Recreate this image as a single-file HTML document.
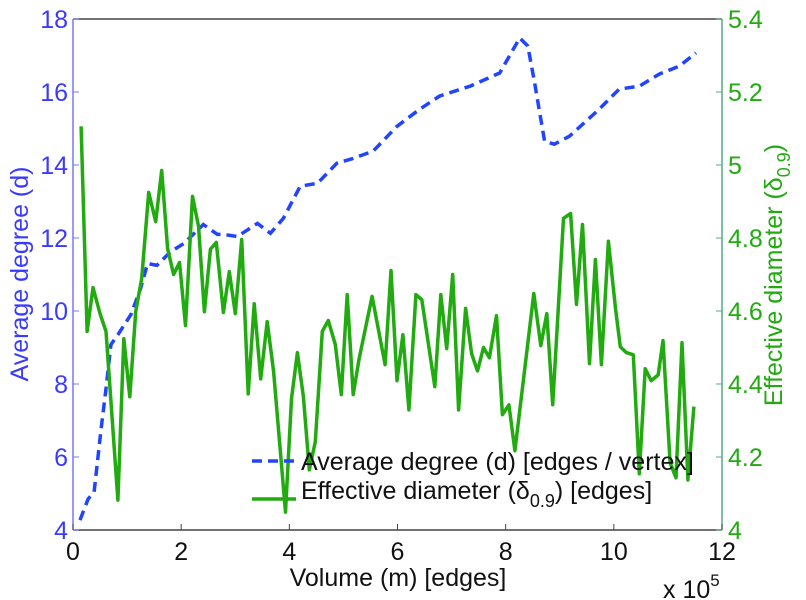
<!DOCTYPE html>
<html><head><meta charset="utf-8"><style>
html,body{margin:0;padding:0;background:#fff;}
svg{display:block;font-family:"Liberation Sans",sans-serif;}
</style></head><body>
<svg id="chart" width="806" height="600" viewBox="0 0 806 600" xmlns="http://www.w3.org/2000/svg"></svg>
<script>
const xTicks=[0,2,4,6,8,10,12];
const leftTicks=[4,6,8,10,12,14,16,18];
const rightTicks=[4,4.2,4.4,4.6,4.8,5,5.2,5.4];
const degX=[0.13,0.28,0.39,0.52,0.61,0.70,0.83,1.07,1.25,1.38,1.55,1.81,2.05,2.41,2.67,2.78,3.04,3.41,3.65,3.89,4.20,4.52,4.88,5.18,5.55,5.99,6.41,6.78,7.34,7.89,8.26,8.41,8.53,8.72,8.90,9.18,9.73,10.10,10.47,10.84,11.21,11.52];
const degY=[4.27,4.85,5.04,6.77,7.87,9.08,9.35,9.90,10.62,11.30,11.25,11.63,11.85,12.37,12.10,12.10,12.04,12.40,12.13,12.54,13.42,13.50,14.05,14.18,14.38,15.06,15.53,15.89,16.16,16.52,17.48,17.26,16.30,14.65,14.57,14.79,15.53,16.08,16.16,16.49,16.71,17.07];
const diaX=[0.15,0.26,0.37,0.50,0.61,0.83,0.94,1.05,1.16,1.27,1.40,1.53,1.64,1.75,1.86,1.97,2.08,2.21,2.32,2.43,2.54,2.65,2.78,2.89,3.00,3.12,3.24,3.35,3.47,3.59,3.71,3.93,4.04,4.15,4.26,4.37,4.48,4.61,4.72,4.85,4.96,5.07,5.18,5.29,5.53,5.77,5.88,5.99,6.10,6.21,6.34,6.45,6.69,6.80,6.91,7.02,7.13,7.26,7.37,7.48,7.59,7.70,7.83,7.94,8.06,8.17,8.52,8.65,8.76,8.87,9.07,9.20,9.31,9.42,9.55,9.66,9.77,9.90,10.03,10.12,10.23,10.36,10.47,10.58,10.69,10.82,10.91,11.04,11.15,11.26,11.37,11.48];
const diaY=[5.106,4.544,4.664,4.593,4.544,4.082,4.524,4.365,4.598,4.689,4.925,4.845,4.985,4.771,4.700,4.733,4.560,4.914,4.832,4.598,4.769,4.788,4.596,4.708,4.593,4.796,4.373,4.620,4.414,4.571,4.434,4.049,4.360,4.486,4.365,4.165,4.242,4.544,4.574,4.508,4.371,4.645,4.371,4.469,4.640,4.453,4.711,4.409,4.535,4.329,4.645,4.631,4.393,4.645,4.497,4.700,4.329,4.607,4.483,4.436,4.500,4.472,4.587,4.316,4.343,4.217,4.648,4.505,4.593,4.343,4.854,4.867,4.618,4.837,4.456,4.741,4.453,4.791,4.607,4.502,4.486,4.480,4.154,4.442,4.409,4.425,4.519,4.184,4.143,4.513,4.137,4.338];

const L=73,R=722,T=19,B=530;
const sx=v=>L+(v-0)/(12-0)*(R-L);
const syL=v=>B-(v-4)/(18-4)*(B-T);
const syR=v=>B-(v-4)/(5.4-4)*(B-T);
const NS="http://www.w3.org/2000/svg";
const svg=document.getElementById('chart');
function mk(tag,attrs,parent){const e=document.createElementNS(NS,tag);for(const k in attrs)e.setAttribute(k,attrs[k]);(parent||svg).appendChild(e);return e;}
const BLUE="#3a3aff",GREEN="#22aa11";
const FS=25;

let a=mk('line',{x1:L,y1:B,x2:R,y2:B,stroke:'#444','stroke-width':1.5});


a=mk('line',{x1:L,y1:T,x2:R,y2:T,stroke:'#444','stroke-width':1.5});


a=mk('line',{x1:L,y1:T,x2:L,y2:B,stroke:'#7777ff','stroke-width':1.5});


a=mk('line',{x1:R,y1:T,x2:R,y2:B,stroke:'#55aa88','stroke-width':1.5});



xTicks.forEach(v=>{
  const x=sx(v);
  const t=mk('line',{x1:x,y1:B,x2:x,y2:B-6,stroke:'#444','stroke-width':1});
  
  
  const tx=mk('text',{x:x,y:B+30,'text-anchor':'middle','font-size':FS,fill:'#111'});
  tx.textContent=v;
  
  
});
leftTicks.forEach(v=>{
  const y=syL(v);
  const t=mk('line',{x1:L,y1:y,x2:L+6,y2:y,stroke:'#7777ff','stroke-width':1});
  
  
  const tx=mk('text',{x:L-5,y:y+9,'text-anchor':'end','font-size':FS,fill:BLUE});
  tx.textContent=v;
  
  
});
rightTicks.forEach(v=>{
  const y=syR(v);
  const t=mk('line',{x1:R,y1:y,x2:R-6,y2:y,stroke:'#55aa88','stroke-width':1});
  
  
  const tx=mk('text',{x:R+6,y:y+9,'font-size':FS,fill:GREEN});
  tx.textContent=(v===4||v===5)?String(v):v.toFixed(1);
  
  
});

let pts=degX.map((x,i)=>sx(x).toFixed(1)+','+syL(degY[i]).toFixed(1)).join(' ');
let pl=mk('polyline',{points:pts,fill:'none',stroke:'#2244ff','stroke-width':3.5,'stroke-dasharray':'10,6'});


pts=diaX.map((x,i)=>sx(x).toFixed(1)+','+syR(diaY[i]).toFixed(1)).join(' ');
pl=mk('polyline',{points:pts,fill:'none',stroke:GREEN,'stroke-width':3.5,'stroke-linejoin':'round'});



const lg=mk('g',{});


let ll=mk('line',{x1:252,y1:461,x2:296,y2:461,stroke:'#2244ff','stroke-width':3.5,'stroke-dasharray':'10,6'},lg);


let lt=mk('text',{x:301,y:470,'font-size':FS,fill:'#111'},lg);
lt.textContent='Average degree (d) [edges / vertex]';


ll=mk('line',{x1:252,y1:499,x2:296,y2:499,stroke:GREEN,'stroke-width':3.5},lg);


lt=mk('text',{x:301,y:499,'font-size':FS,fill:'#111'},lg);
lt.innerHTML='Effective diameter (δ<tspan font-size="18" dy="8">0.9</tspan><tspan dy="-8">) [edges]</tspan>';



let at=mk('text',{x:398,y:586,'text-anchor':'middle','font-size':FS,fill:'#111'});
at.textContent='Volume (m) [edges]';


at=mk('text',{x:663,y:598,'font-size':FS,fill:'#111'});
at.innerHTML='x 10<tspan font-size="17" dy="-12">5</tspan>';


at=mk('text',{x:0,y:0,'text-anchor':'middle','font-size':FS,fill:BLUE,transform:'translate(28,274) rotate(-90)'});
at.textContent='Average degree (d)';


at=mk('text',{x:0,y:0,'text-anchor':'middle','font-size':FS,fill:GREEN,transform:'translate(782,275) rotate(-90)'});
at.innerHTML='Effective diameter (δ<tspan font-size="18" dy="8">0.9</tspan><tspan dy="-8">)</tspan>';


</script>
</body></html>
